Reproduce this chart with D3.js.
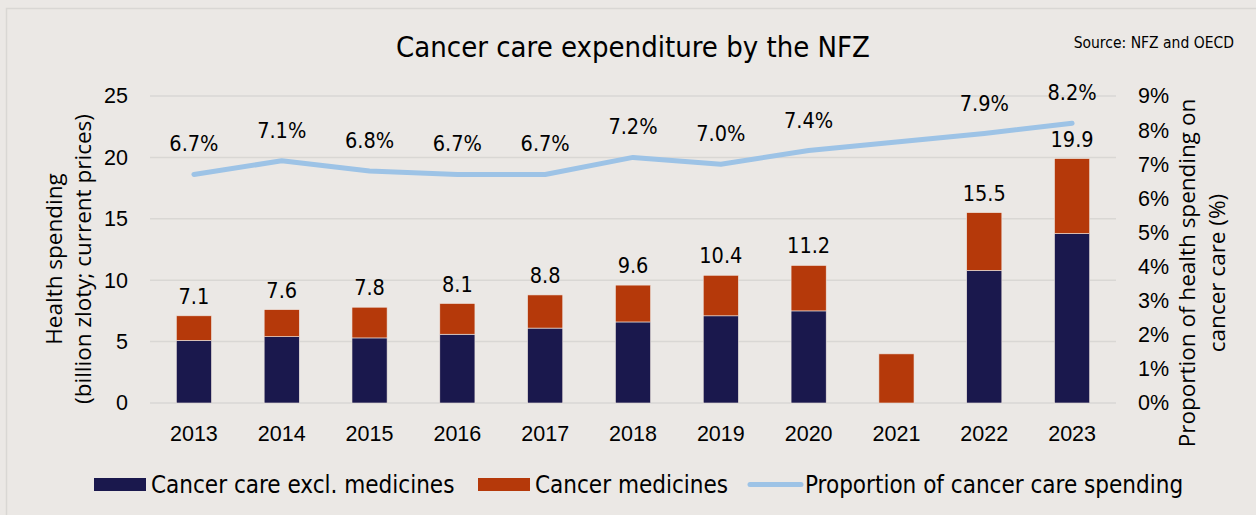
<!DOCTYPE html>
<html>
<head>
<meta charset="utf-8">
<script src="https://cdn.jsdelivr.net/npm/d3@7"></script>
<style>
  html, body { margin: 0; padding: 0; background: #ebe8e5; }
  svg { display: block; font-family: "DejaVu Sans Condensed", "DejaVu Sans", sans-serif; }
</style>
</head>
<body>
<div id="chart"></div>
<script>
// Chart data
const years = ["2013", "2014", "2015", "2016", "2017", "2018", "2019", "2020", "2021", "2022", "2023"];
const careExclMedicines = [5.1, 5.4, 5.3, 5.6, 6.1, 6.6, 7.1, 7.5, 0, 10.8, 13.8];
const medicines = [2.0, 2.2, 2.5, 2.5, 2.7, 3.0, 3.3, 3.7, 4.0, 4.7, 6.1];
const totalLabels = ["7.1", "7.6", "7.8", "8.1", "8.8", "9.6", "10.4", "11.2", null, "15.5", "19.9"];
const shareOfSpending = [6.7, 7.1, 6.8, 6.7, 6.7, 7.2, 7.0, 7.4, null, 7.9, 8.2];
const leftTicks = [0, 5, 10, 15, 20, 25];
const rightTicks = [0, 1, 2, 3, 4, 5, 6, 7, 8, 9];

const width = 1256, height = 515;
const margin = {top: 96, right: 140, bottom: 112, left: 150};
const navy = "#1a184d", orange = "#b5390a", lineBlue = "#9dc3e6";
const numSize = 21.5, textSize = 24;

const svg = d3.select("#chart").append("svg")
    .attr("width", width)
    .attr("height", height);

// outer frame
svg.append("rect")
    .attr("x", 6.5).attr("y", 8.5)
    .attr("width", width - 4).attr("height", height)
    .attr("fill", "#ebe8e5")
    .attr("stroke", "#d9d7d4")
    .attr("stroke-width", 1.5);

const x = d3.scaleBand()
    .domain(years)
    .range([margin.left, width - margin.right])
    .paddingInner(0.6)
    .paddingOuter(0.3);

const y = d3.scaleLinear()
    .domain([0, 25])
    .range([height - margin.bottom, margin.top]);

const y2 = d3.scaleLinear()
    .domain([0, 9])
    .range([height - margin.bottom, margin.top]);

// gridlines
svg.append("g")
  .selectAll("line")
  .data(leftTicks)
  .join("line")
    .attr("x1", margin.left)
    .attr("x2", width - margin.right)
    .attr("y1", d => y(d))
    .attr("y2", d => y(d))
    .attr("stroke", "#d9d7d4")
    .attr("stroke-width", 1.5);

// left axis
const leftAxis = svg.append("g")
    .attr("transform", `translate(${margin.left - 22},0)`)
    .call(d3.axisLeft(y).tickValues(leftTicks).tickSize(0).tickPadding(0));
leftAxis.select(".domain").remove();
leftAxis.selectAll("text")
    .attr("font-size", numSize)
    .attr("fill", "#000")
    .style("font-family", "inherit");

// right axis
const rightAxis = svg.append("g")
    .attr("transform", `translate(${width - margin.right + 22},0)`)
    .call(d3.axisRight(y2).tickValues(rightTicks).tickFormat(d => d + "%").tickSize(0).tickPadding(0));
rightAxis.select(".domain").remove();
rightAxis.selectAll("text")
    .attr("font-size", numSize)
    .attr("fill", "#000")
    .style("font-family", "inherit");

// x axis
const bottomAxis = svg.append("g")
    .attr("transform", `translate(0,${height - margin.bottom + 19})`)
    .call(d3.axisBottom(x).tickSize(0).tickPadding(0));
bottomAxis.select(".domain").remove();
bottomAxis.selectAll("text")
    .attr("font-size", numSize)
    .attr("fill", "#000")
    .attr("dy", "0.9em")
    .style("font-family", "inherit");

// stacked bars
const rows = years.map((yr, i) => ({year: yr, care: careExclMedicines[i], med: medicines[i]}));
const stacked = d3.stack().keys(["care", "med"])(rows);
const colors = {care: navy, med: orange};

svg.append("g")
  .selectAll("g")
  .data(stacked)
  .join("g")
    .attr("fill", d => colors[d.key])
  .selectAll("rect")
  .data(d => d.filter(s => s[1] - s[0] > 0))
  .join("rect")
    .attr("x", d => x(d.data.year))
    .attr("width", x.bandwidth())
    .attr("y", d => y(d[1]))
    .attr("height", d => y(d[0]) - y(d[1]))
    .attr("stroke", "#efe6e0")
    .attr("stroke-width", 0.6);

// total labels
svg.append("g")
  .selectAll("text")
  .data(years.map((yr, i) => ({year: yr, total: careExclMedicines[i] + medicines[i], label: totalLabels[i]}))
        .filter(d => d.label))
  .join("text")
    .attr("x", d => x(d.year) + x.bandwidth() / 2)
    .attr("y", d => y(d.total) - 12)
    .attr("text-anchor", "middle")
    .attr("font-size", numSize)
    .text(d => d.label);

// share line (gap at 2021 bridged)
const linePts = years.map((yr, i) => ({year: yr, v: shareOfSpending[i]})).filter(d => d.v != null);
svg.append("path")
    .datum(linePts)
    .attr("fill", "none")
    .attr("stroke", lineBlue)
    .attr("stroke-width", 5)
    .attr("stroke-linejoin", "round")
    .attr("stroke-linecap", "round")
    .attr("d", d3.line()
        .x(d => x(d.year) + x.bandwidth() / 2)
        .y(d => y2(d.v)));

svg.append("g")
  .selectAll("text")
  .data(linePts)
  .join("text")
    .attr("x", d => x(d.year) + x.bandwidth() / 2)
    .attr("y", d => y2(d.v) - 23)
    .attr("text-anchor", "middle")
    .attr("font-size", numSize)
    .text(d => d.v.toFixed(1) + "%");

// title & source
svg.append("text")
    .attr("x", 633)
    .attr("y", 57)
    .attr("text-anchor", "middle")
    .attr("font-size", 29)
    .text("Cancer care expenditure by the NFZ");

svg.append("text")
    .attr("x", 1234)
    .attr("y", 48)
    .attr("text-anchor", "end")
    .attr("font-size", 15.5)
    .text("Source: NFZ and OECD");

// axis titles
const leftTitle = svg.append("text")
    .attr("transform", `translate(0,259) rotate(-90)`)
    .attr("text-anchor", "middle")
    .attr("font-family", "'Open Sans', sans-serif")
    .attr("font-size", 22.5);
leftTitle.append("tspan").attr("x", 0).attr("y", 62).text("Health spending");
leftTitle.append("tspan").attr("x", 0).attr("y", 91).text("(billion zloty; current prices)");

const rightTitle = svg.append("text")
    .attr("transform", `translate(0,273) rotate(-90)`)
    .attr("text-anchor", "middle")
    .attr("font-family", "'Open Sans', sans-serif")
    .attr("font-size", 22.5);
rightTitle.append("tspan").attr("x", 0).attr("y", 1195).text("Proportion of health spending on");
rightTitle.append("tspan").attr("x", 0).attr("y", 1225).text("cancer care (%)");

// legend
const legend = svg.append("g").attr("font-size", textSize);
const legendItems = [
  {label: "Cancer care excl. medicines", x: 94, type: "rect", color: navy},
  {label: "Cancer medicines", x: 478, type: "rect", color: orange},
  {label: "Proportion of cancer care spending", x: 748, type: "line", color: lineBlue}
];
legendItems.forEach(d => {
  if (d.type === "rect") {
    legend.append("rect")
        .attr("x", d.x).attr("y", 478)
        .attr("width", 52).attr("height", 13)
        .attr("fill", d.color);
  } else {
    legend.append("line")
        .attr("x1", d.x + 2).attr("x2", d.x + 53)
        .attr("y1", 484.5).attr("y2", 484.5)
        .attr("stroke", d.color)
        .attr("stroke-width", 5)
        .attr("stroke-linecap", "round");
  }
  legend.append("text")
      .attr("x", d.x + 57)
      .attr("y", 493)
      .text(d.label);
});
</script>
</body>
</html>
